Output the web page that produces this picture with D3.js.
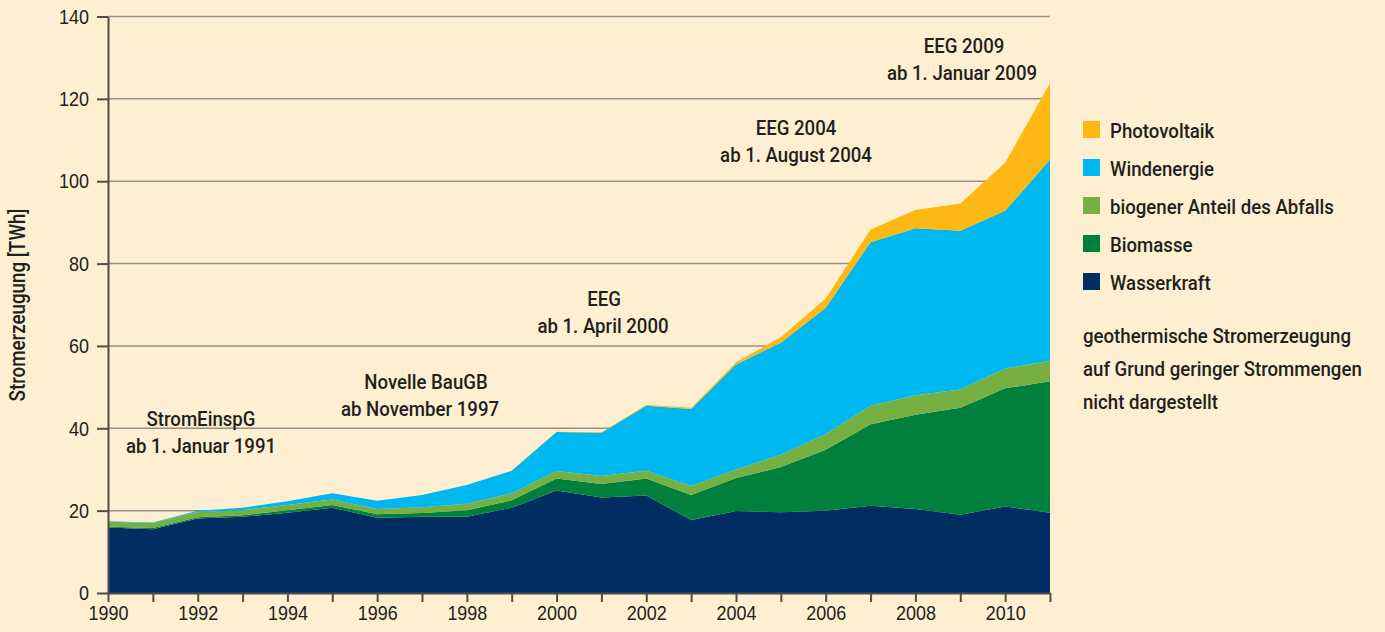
<!DOCTYPE html>
<html><head><meta charset="utf-8">
<script src="https://cdn.jsdelivr.net/npm/d3@7"></script>
<style>
html,body{margin:0;padding:0;background:#FEEFD2;}
svg{display:block;}
text{fill:#231F20;}
.din{font-family:Roboto,'DejaVu Sans Condensed',sans-serif;font-weight:500;font-size:21px;}
.tick text{font-family:'Liberation Sans',Arial,sans-serif;font-size:21px;}
</style></head>
<body>
<svg id="chart" width="1385" height="632"></svg>
<script>
// ---- data (TWh) ----
const years = [1990,1991,1992,1993,1994,1995,1996,1997,1998,1999,2000,2001,2002,2003,2004,2005,2006,2007,2008,2009,2010,2011];
const wasserkraft = [15.9,15.5,18.1,18.5,19.5,20.7,18.3,18.5,18.5,20.7,24.9,23.2,23.7,17.7,19.9,19.6,20.0,21.2,20.4,19.0,21.0,19.5];
const biomasse    = [0.2,0.3,0.3,0.4,0.6,0.7,0.8,0.9,1.6,1.8,2.9,3.3,4.1,6.1,8.0,11.0,14.8,19.8,22.9,26.0,28.7,31.9];
const abfall      = [1.2,1.2,1.3,1.2,1.3,1.3,1.3,1.4,1.6,1.7,1.8,1.9,1.9,2.2,2.1,3.0,3.8,4.5,4.7,4.4,4.8,5.0];
const wind        = [0.1,0.1,0.3,0.6,0.9,1.5,2.0,3.0,4.5,5.5,9.5,10.5,15.8,18.7,25.5,27.2,30.7,39.7,40.6,38.6,38.3,48.9];
const pv          = [0,0,0,0,0,0,0,0,0,0.03,0.06,0.12,0.19,0.31,0.56,1.3,2.2,3.1,4.4,6.6,11.7,18.5];
const seriesKeys  = ["Wasserkraft","Biomasse","biogener Anteil des Abfalls","Windenergie","Photovoltaik"];
const seriesColors= ["#002E63","#00803D","#76B043","#00B8F0","#FDB813"];
const yTicks = [0,20,40,60,80,100,120,140];
const xLabelYears = [1990,1992,1994,1996,1998,2000,2002,2004,2006,2008,2010];
const annotations = [
  {lines:["StromEinspG","ab 1. Januar 1991"], x:[201,201], y:426},
  {lines:["Novelle BauGB","ab November 1997"], x:[426,420], y:389},
  {lines:["EEG","ab 1. April 2000"], x:[604,603], y:306},
  {lines:["EEG 2004","ab 1. August 2004"], x:[796,796], y:135},
  {lines:["EEG 2009","ab 1. Januar 2009"], x:[964,962], y:53}
];
const noteLines = ["geothermische Stromerzeugung","auf Grund geringer Strommengen","nicht dargestellt"];

// ---- build table ----
const seriesValues = [wasserkraft,biomasse,abfall,wind,pv];
const table = years.map((yr,i)=>{
  const o={year:yr};
  seriesKeys.forEach((k,j)=>o[k]=seriesValues[j][i]);
  return o;
});

const svg = d3.select("#chart");
const x = d3.scaleLinear().domain([1990,2011]).range([108,1050]);
const y = d3.scaleLinear().domain([0,140]).range([593,16.5]);

// calibrate condensed widths (reference font is a narrow face)
function measure(cls, str, style){
  const t = svg.append("text").attr("class",cls).text(str);
  if(style) t.style("font-family",style.ff).style("font-size",style.fs).style("font-weight",style.fw||null);
  const w = t.node().getComputedTextLength(); t.remove(); return w;
}
const SX = 224 / measure("din","biogener Anteil des Abfalls");
const TX = 40 / measure(null,"1990",{ff:"'Liberation Sans',Arial,sans-serif",fs:"21px"});

function ctext(parent, px, py, str, anchor, extra, sx){
  const g = parent.append("g").attr("transform",`translate(${px},${py})${extra||""} scale(${sx||SX},1)`);
  g.append("text").attr("class","din").attr("text-anchor",anchor).text(str);
  return g;
}

// gridlines
svg.append("g").selectAll("line").data(yTicks.filter(d=>d>0)).join("line")
  .attr("x1",x(1990)).attr("x2",x(2011))
  .attr("y1",d=>y(d)).attr("y2",d=>y(d))
  .attr("stroke","#958F88").attr("stroke-width",1.5);

// stacked areas
const stack = d3.stack().keys(seriesKeys);
const layers = stack(table);
const area = d3.area().x(d=>x(d.data.year)).y0(d=>y(d[0])).y1(d=>y(d[1]));
svg.append("g").selectAll("path").data(layers).join("path")
  .attr("d",area).attr("fill",(d,i)=>seriesColors[i]);

// y axis
const yAxis = d3.axisLeft(y).tickValues(yTicks).tickSize(11).tickSizeOuter(0).tickPadding(8);
const gy = svg.append("g").attr("transform",`translate(${x(1990)},0)`).call(yAxis);
gy.select(".domain").attr("stroke","#524C46").attr("stroke-width",2);
gy.selectAll(".tick line").attr("stroke","#524C46").attr("stroke-width",2);
gy.selectAll(".tick text").attr("fill","#231F20")
  .attr("x",-19/TX).attr("transform",`scale(${TX},1)`);

// x axis
const xAxis = d3.axisBottom(x).tickValues(years).tickSize(9).tickSizeOuter(0).tickPadding(3)
  .tickFormat(d=>xLabelYears.includes(d)?String(d):"");
const gx = svg.append("g").attr("transform",`translate(0,${y(0)})`).call(xAxis);
gx.select(".domain").attr("stroke","#524C46").attr("stroke-width",2);
gx.selectAll(".tick line").attr("stroke","#524C46").attr("stroke-width",2);
gx.selectAll(".tick text").attr("fill","#231F20").attr("transform",`scale(${TX},1)`);
svg.selectAll("g[font-family]").attr("font-family",null).attr("font-size",null);

// y title
const titleStr = "Stromerzeugung [TWh]";
const TSX = 193 / measure(null,titleStr,{ff:"Roboto,sans-serif",fs:"22px",fw:500});
ctext(svg, 25, 305, titleStr, "middle", " rotate(-90)", TSX).select("text").style("font-size","22px");

// annotations
annotations.forEach(a=>{
  a.lines.forEach((t,i)=> ctext(svg, a.x[i], a.y+i*27, t, "middle"));
});

// legend (top to bottom: reversed stack order)
const legendItems = seriesKeys.map((k,i)=>({k,c:seriesColors[i]})).reverse();
const lg = svg.append("g");
legendItems.forEach((d,i)=>{
  const cy = 129.5 + i*38;
  lg.append("rect").attr("x",1083).attr("y",cy-8.5).attr("width",17).attr("height",17).attr("fill",d.c);
  ctext(lg, 1110, cy+8, d.k, "start");
});
noteLines.forEach((t,i)=> ctext(svg, 1083, 343+i*33, t, "start"));
</script>
</body></html>
